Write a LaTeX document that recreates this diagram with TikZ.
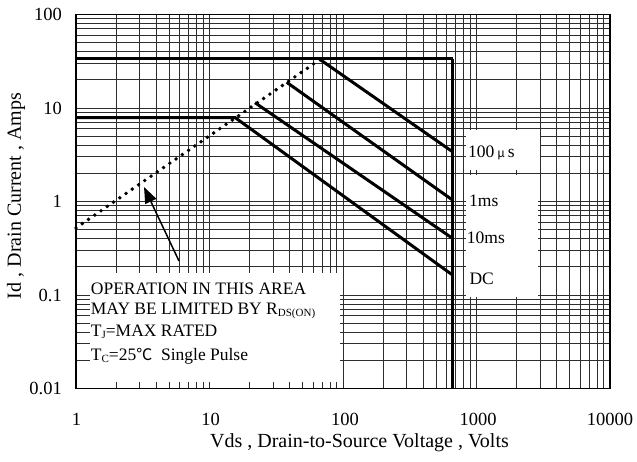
\documentclass[tikz,border=0pt]{standalone}
\usepackage{fontspec}
\setmainfont{Liberation Serif}
\newfontfamily\cjk{Noto Sans CJK SC}
\usetikzlibrary{arrows.meta}
\begin{document}
\begin{tikzpicture}[x=1pt,y=-1pt,
  gridline/.style={draw=black!82,line width=1pt},
  soa/.style={line width=3pt,line cap=butt,line join=miter},
  rdson/.style={line width=3.9pt,line cap=round,dash pattern=on 0pt off 7.6pt},
  whitebox/.style={fill=white,draw=none},
  ticklbl/.style={font=\fontsize{18.5}{20}\selectfont,inner sep=0pt},
  title/.style={font=\fontsize{20}{22}\selectfont,inner sep=0pt},
  lbl/.style={font=\fontsize{17.5}{19}\selectfont,anchor=west,inner sep=0pt},
  note/.style={font=\fontsize{17.5}{19}\selectfont,anchor=base west,inner sep=0pt},
]
\useasboundingbox[fill=white] (0,0) rectangle (637,461);
% grid
\foreach \d in {0,1,2,3} \foreach \k in {1,...,9} {
  \draw[gridline] ({76+133.5*(\d+log10(\k))},14.5) -- ++(0,374);
  \draw[gridline] (76,{388.5-93.5*(\d+log10(\k))}) -- ++(534,0);
}
% white label areas
\fill[whitebox] (90,273) rectangle (340,381.5);
\fill[whitebox] (465.5,130) rectangle (539.5,169.5);
\fill[whitebox] (465.5,175) rectangle (538,296.5);
% frame
\draw[line width=1.4pt] (76,14.5) rectangle (610,388.5);
% curve points
\coordinate (topL) at (76,58.5);
\coordinate (topR) at (452.5,58.5);
\coordinate (botR) at (452.5,388.5);
\coordinate (dcL) at (76,117.5);
\coordinate (dcK) at (235,117.5);
\coordinate (dcE) at (452.5,275);
\coordinate (t10s) at (255,102.7);
\coordinate (t10e) at (452.5,238.3);
\coordinate (t1s) at (286.7,82.3);
\coordinate (t1e) at (452.5,200);
\coordinate (t100s) at (320,59.5);
\coordinate (t100e) at (452.5,151.7);
\coordinate (r0) at (76,228);
\coordinate (r1) at (320,59.5);
\coordinate (arrS) at (179,261);
\coordinate (arrT) at (144,187);
% curves
\draw[soa] (topL) -- (topR);
\draw[soa,line width=3.8pt] (topR) -- (botR);
\draw[soa] (dcL) -- (dcK) -- (dcE);
\draw[soa] (t10s) -- (t10e);
\draw[soa] (t1s) -- (t1e);
\draw[soa] (t100s) -- (t100e);
\draw[rdson] (r0) -- (r1);
\draw[line width=1.5pt,-{Triangle[length=16pt,width=12pt]}] (arrS) -- (arrT);
% curve labels
\node[lbl] (l100) at (468,153) {100\,{\cjk\fontsize{12}{12}\selectfont µ}\,s};
\node[lbl] (l1) at (469,201) {1ms};
\node[lbl] (l10) at (466.7,238) {10ms};
\node[lbl] (ldc) at (469.3,278.5) {DC};
% note
\node[note] (n1) at (90.7,294) {OPERATION IN THIS AREA};
\node[note] (n2) at (90.7,314.3) {MAY BE LIMITED BY R{\fontsize{11}{11}\selectfont\raisebox{-2pt}{DS(ON)}}};
\node[note] (n3) at (90.7,336) {T{\fontsize{11}{11}\selectfont\raisebox{-2pt}{J}}=MAX RATED};
\node[note] (n4) at (90.7,360) {T{\fontsize{11}{11}\selectfont\raisebox{-2pt}{C}}=25{\cjk\fontsize{16}{16}\selectfont ℃}\ \ Single Pulse};
% tick labels
\node[ticklbl,anchor=east] (y100) at (62,14.5) {100};
\node[ticklbl,anchor=east] (y10) at (62,108) {10};
\node[ticklbl,anchor=east] (y1) at (62,201.5) {1};
\node[ticklbl,anchor=east] (y01) at (62,295) {0.1};
\node[ticklbl,anchor=east] (y001) at (62,388.5) {0.01};
\node[ticklbl] (x1) at (76.5,419) {1};
\node[ticklbl] (x10) at (210.5,419) {10};
\node[ticklbl] (x100) at (345,419) {100};
\node[ticklbl] (x1000) at (478,419) {1000};
\node[ticklbl] (x10000) at (610,419) {10000};
% axis titles
\node[title] (xt) at (359.5,443) {Vds , Drain-to-Source Voltage , Volts};
\node[title,rotate=90] (yt) at (16,196) {Id , Drain Current , Amps};
\end{tikzpicture}
\end{document}
